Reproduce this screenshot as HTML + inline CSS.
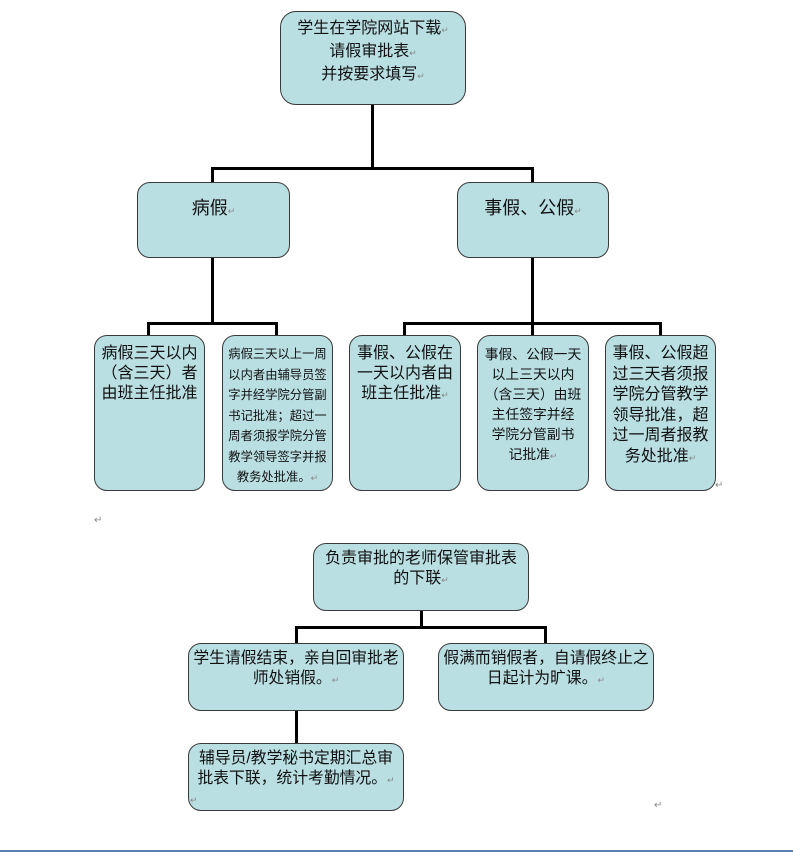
<!DOCTYPE html>
<html><head><meta charset="utf-8">
<style>
html,body{margin:0;padding:0;background:#fff;}
body{width:793px;height:853px;position:relative;overflow:hidden;font-family:"Liberation Sans","Noto Sans CJK SC","WenQuanYi Zen Hei",sans-serif;color:#111;}
.b{position:absolute;box-sizing:border-box;background:#badfe3;border:1.3px solid #3a3a3a;border-radius:13px;text-align:center;white-space:nowrap;}
.l{position:absolute;background:#000;}
.r{color:#888;font-size:9px;}
.m{position:absolute;color:#888;font-size:10px;}
</style></head><body>

<!-- connectors -->
<div class="l" style="left:371px;top:104px;width:3px;height:66px"></div>
<div class="l" style="left:211px;top:167px;width:323px;height:3px"></div>
<div class="l" style="left:211px;top:167px;width:3px;height:16px"></div>
<div class="l" style="left:531px;top:167px;width:3px;height:16px"></div>

<div class="l" style="left:211px;top:257px;width:3px;height:67px"></div>
<div class="l" style="left:147px;top:322px;width:131px;height:3px"></div>
<div class="l" style="left:147px;top:322px;width:3px;height:14px"></div>
<div class="l" style="left:275px;top:322px;width:3px;height:14px"></div>

<div class="l" style="left:531px;top:257px;width:3px;height:79px"></div>
<div class="l" style="left:403px;top:322px;width:259px;height:3px"></div>
<div class="l" style="left:403px;top:322px;width:3px;height:14px"></div>
<div class="l" style="left:659px;top:322px;width:3px;height:14px"></div>

<div class="l" style="left:420px;top:609px;width:3px;height:19px"></div>
<div class="l" style="left:295px;top:626px;width:252px;height:3px"></div>
<div class="l" style="left:295px;top:626px;width:3px;height:18px"></div>
<div class="l" style="left:544px;top:626px;width:3px;height:18px"></div>
<div class="l" style="left:295px;top:709px;width:3px;height:35px"></div>

<!-- top -->
<div class="b" style="left:280px;top:11px;width:186px;height:94px;border-radius:16px;font-size:16px;line-height:21px;padding-top:6px">学生在学院网站下载<span class="r">↵</span><br>请假审批表<span class="r">↵</span><br>并按要求填写<span class="r">↵</span></div>

<!-- level 2 -->
<div class="b" style="left:137px;top:182px;width:153px;height:76px;font-size:18px;line-height:22px;padding-top:14px">病假<span class="r">↵</span></div>
<div class="b" style="left:457px;top:182px;width:152px;height:76px;font-size:18px;line-height:22px;padding-top:14px">事假、公假<span class="r">↵</span></div>

<!-- level 3 -->
<div class="b" style="left:94px;top:335px;width:111px;height:156px;font-size:16px;line-height:20px;padding-top:8px">病假三天以内<br>（含三天）者<br>由班主任批准</div>
<div class="b" style="left:222px;top:335px;width:111px;height:156px;font-size:12.3px;line-height:20.5px;padding-top:8px">病假三天以上一周<br>以内者由辅导员签<br>字并经学院分管副<br>书记批准；超过一<br>周者须报学院分管<br>教学领导签字并报<br>教务处批准。<span class="r">↵</span></div>
<div class="b" style="left:349px;top:335px;width:112px;height:156px;font-size:16px;line-height:20px;padding-top:8px">事假、公假在<br>一天以内者由<br>班主任批准<span class="r">↵</span></div>
<div class="b" style="left:477px;top:335px;width:112px;height:156px;font-size:13.8px;line-height:20px;padding-top:9px">事假、公假一天<br>以上三天以内<br>（含三天）由班<br>主任签字并经<br>学院分管副书<br>记批准<span class="r">↵</span></div>
<div class="b" style="left:605px;top:335px;width:111px;height:156px;font-size:16px;line-height:20.5px;padding-top:8px">事假、公假超<br>过三天者须报<br>学院分管教学<br>领导批准，超<br>过一周者报教<br>务处批准<span class="r">↵</span></div>

<!-- second chart -->
<div class="b" style="left:313px;top:543px;width:216px;height:68px;font-size:16px;line-height:20px;padding-top:5px">负责审批的老师保管审批表<br>的下联<span class="r">↵</span></div>
<div class="b" style="left:188px;top:643px;width:216px;height:68px;font-size:15.8px;line-height:20px;padding-top:5px">学生请假结束，亲自回审批老<br>师处销假。<span class="r">↵</span></div>
<div class="b" style="left:438px;top:643px;width:216px;height:68px;font-size:15.8px;line-height:20px;padding-top:5px">假满而销假者，自请假终止之<br>日起计为旷课。<span class="r">↵</span></div>
<div class="b" style="left:188px;top:743px;width:216px;height:68px;font-size:15.8px;line-height:20px;padding-top:5px">辅导员/教学秘书定期汇总审<br>批表下联，统计考勤情况。<span class="r">↵</span><br><span class="r" style="display:block;text-align:left;margin-left:1px">↵</span></div>

<!-- stray markers -->
<div class="m" style="left:94px;top:515px">↵</div>
<div class="m" style="left:715px;top:480px">↵</div>
<div class="m" style="left:654px;top:800px">↵</div>

<div style="position:absolute;left:0;top:850px;width:793px;height:2px;background:#5b80b2"></div>
</body></html>
